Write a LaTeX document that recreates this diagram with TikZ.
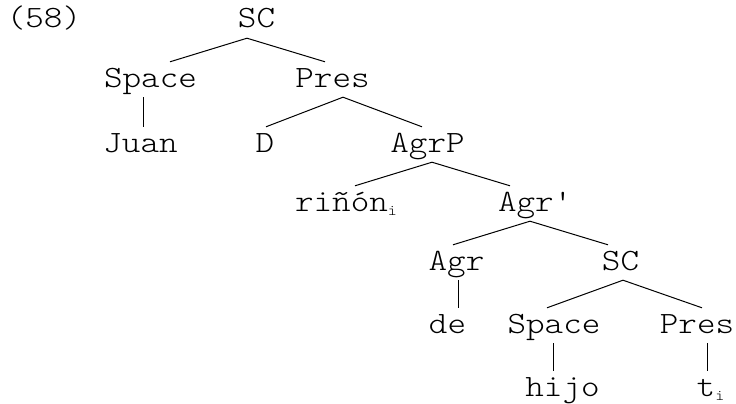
\documentclass[tikz,border=0pt]{standalone}
\usepackage{fontspec}
\setmainfont{Latin Modern Mono Light}[FakeStretch=1.14, Ligatures=NoCommon]
\newcommand{\idx}[1]{\rlap{\raisebox{-4pt}{\fontsize{15}{15}\selectfont #1}}}
\tikzset{
  word/.style={anchor=base, inner xsep=0pt, inner ysep=7pt, text height=18pt,
               text depth=3pt, font=\fontsize{31}{36}\selectfont},
  branch/.style={line width=1pt}
}
\begin{document}
\begin{tikzpicture}[x=1pt, y=-1pt]
  \useasboundingbox (0,0) rectangle (736,404);
  \node[word] (exnum) at (44,28) {(58)};
  \node[word] (sctop) at (256.5,28) {SC};
  \node[word] (spaceA) at (150.5,87) {Space};
  \node[word] (presA) at (332.5,87) {Pres};
  \node[word] (juan) at (140.5,152) {Juan};
  \node[word] (dnode) at (265,152) {D};
  \node[word] (agrp) at (427.5,152) {AgrP};
  \node[word] (rinon) at (341.5,211) {riñón\idx{i}};
  \node[word] (agrbar) at (534,211) {Agr\textquotesingle};
  \node[word] (agr) at (456.5,270) {Agr};
  \node[word] (scbot) at (620.5,270) {SC};
  \node[word] (de) at (447.5,333) {de};
  \node[word] (spaceB) at (554,333) {Space};
  \node[word] (presB) at (697,333) {Pres};
  \node[word] (hijo) at (562.5,396) {hijo};
  \node[word] (ti) at (706,396) {t\idx{i}};

  \draw[branch] ([xshift=-9.5pt]sctop.south) -- ([xshift=19.5pt]spaceA.north);
  \draw[branch] ([xshift=-9.5pt]sctop.south) -- ([xshift=-7.5pt]presA.north);
  \draw[branch] ([xshift=-7.5pt]spaceA.south) -- ([xshift=2.5pt]juan.north);
  \draw[branch] ([xshift=10.5pt]presA.south) -- ([xshift=1pt]dnode.north);
  \draw[branch] ([xshift=10.5pt]presA.south) -- ([xshift=-5.5pt]agrp.north);
  \draw[branch] ([xshift=4.5pt]agrp.south) -- ([xshift=13.5pt]rinon.north);
  \draw[branch] ([xshift=4.5pt]agrp.south) -- ([xshift=-24pt]agrbar.north);
  \draw[branch] ([xshift=-4pt]agrbar.south) -- ([xshift=-3.5pt]agr.north);
  \draw[branch] ([xshift=-4pt]agrbar.south) -- ([xshift=-12.5pt]scbot.north);
  \draw[branch] ([xshift=1.5pt]agr.south) -- ([xshift=10.5pt]de.north);
  \draw[branch] ([xshift=2.5pt]scbot.south) -- ([xshift=-7pt]spaceB.north);
  \draw[branch] ([xshift=2.5pt]scbot.south) -- ([xshift=5pt]presB.north);
  \draw[branch] ([xshift=-1pt]spaceB.south) -- ([xshift=-9.5pt]hijo.north);
  \draw[branch] ([xshift=10pt]presB.south) -- ([xshift=1pt]ti.north);
\end{tikzpicture}
\end{document}
